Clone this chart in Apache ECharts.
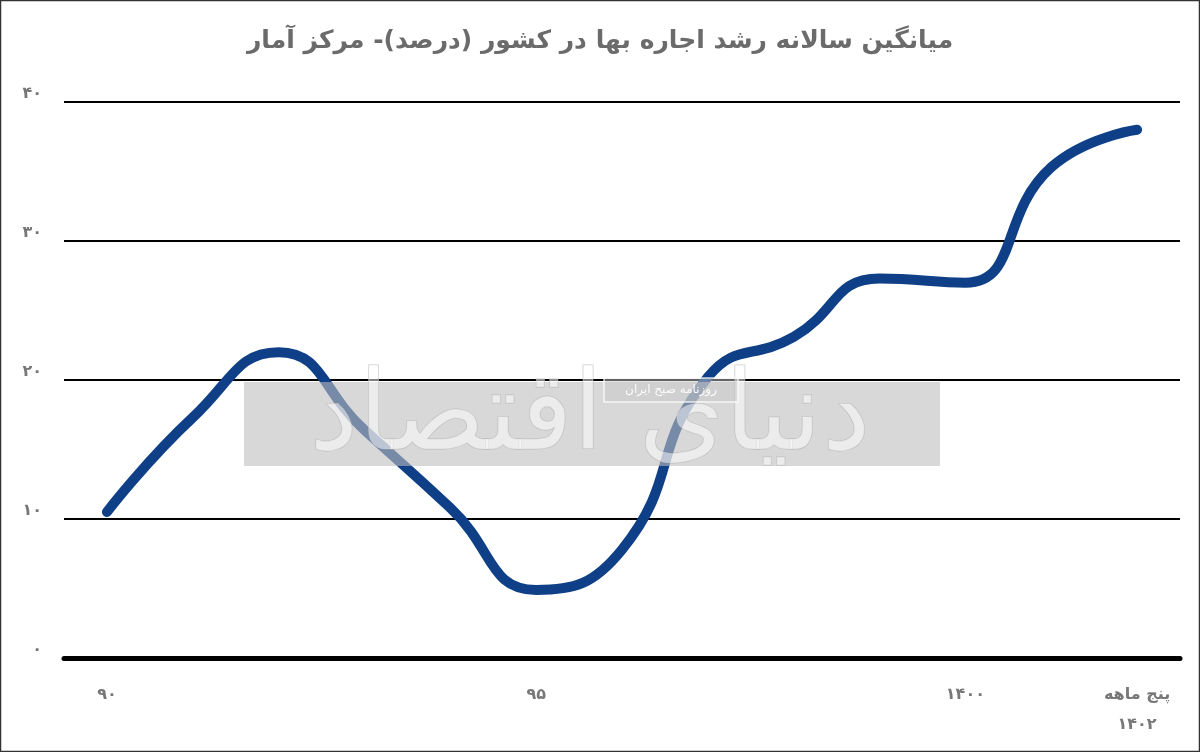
<!DOCTYPE html>
<html><head><meta charset="utf-8">
<script src="https://cdn.jsdelivr.net/npm/echarts@6/dist/echarts.min.js"></script>
<style>html,body{margin:0;padding:0;background:#fff}#c{width:1200px;height:752px}</style>
</head><body><div id="c"></div>
<script>
const titleText = 'میانگین سالانه رشد اجاره بها در کشور (درصد)- مرکز آمار';
const categories = ['۹۰','۹۱','۹۲','۹۳','۹۴','۹۵','۹۶','۹۷','۹۸','۹۹','۱۴۰۰','۱۴۰۱','پنج ماهه\n۱۴۰۲'];
const shownLabelIdx = [0,5,10,12];
const rentGrowth = [10.5,17.3,22.0,16.4,10.8,4.9,7.8,20.2,23.1,27.3,27.0,35.3,38.0];
const yTicks = [0,10,20,30,40];
const fa = s => String(s).replace(/[0-9]/g, d => '۰۱۲۳۴۵۶۷۸۹'[d]);

const chart = echarts.init(document.getElementById('c'));
chart.setOption({
  backgroundColor:'#fff',
  animation:false,
  title:{text:titleText,left:'center',top:24,textStyle:{fontFamily:'DejaVu Sans',fontWeight:'bold',fontSize:25,color:'#6b6b6b'}},
  grid:{left:64,right:20,top:102,bottom:94},
  xAxis:{type:'category',data:categories,boundaryGap:true,
    axisLine:{show:true,lineStyle:{color:'#000',width:5}},
    axisTick:{show:false},
    axisLabel:{interval:(i)=>shownLabelIdx.includes(i),margin:22,color:'#777',fontFamily:'DejaVu Sans',fontWeight:'bold',fontSize:16,lineHeight:30,verticalAlign:'top'}},
  yAxis:{type:'value',min:yTicks[0],max:yTicks[yTicks.length-1],interval:10,
    axisLine:{show:false},axisTick:{show:false},
    splitLine:{lineStyle:{color:'#000',width:2}},
    axisLabel:{formatter:v=>fa(v),color:'#777',fontFamily:'DejaVu Sans',fontWeight:'bold',fontSize:16,margin:22,verticalAlign:'bottom'}},
  series:[{type:'line',data:rentGrowth,smooth:0.5,symbol:'none',z:2,
    lineStyle:{color:'#0e3f87',width:10,cap:'round',join:'round'}}],
  graphic:[
    {type:'rect',z:50,shape:{x:244,y:382,width:696,height:84},style:{fill:'rgba(190,190,190,0.6)'}},
    {type:'text',z:51,x:590,y:420,style:{text:'دنیای اقتصاد',fontFamily:'DejaVu Sans',fontSize:110,fill:'rgba(255,255,255,0.5)',stroke:'rgba(170,170,170,0.6)',lineWidth:1,align:'center',verticalAlign:'middle'}},
    {type:'rect',z:52,shape:{x:604,y:378,width:134,height:24},style:{fill:'rgba(200,200,200,0.5)',stroke:'rgba(255,255,255,0.8)',lineWidth:1.5}},
    {type:'text',z:53,x:671,y:390,style:{text:'روزنامه صبح ایران',fontFamily:'DejaVu Sans',fontSize:12,fill:'rgba(255,255,255,0.9)',align:'center',verticalAlign:'middle'}},
    {type:'rect',z:60,shape:{x:0.5,y:0.5,width:1199,height:751},style:{fill:null,stroke:'#333',lineWidth:1.5}}
  ]
});
</script></body></html>
